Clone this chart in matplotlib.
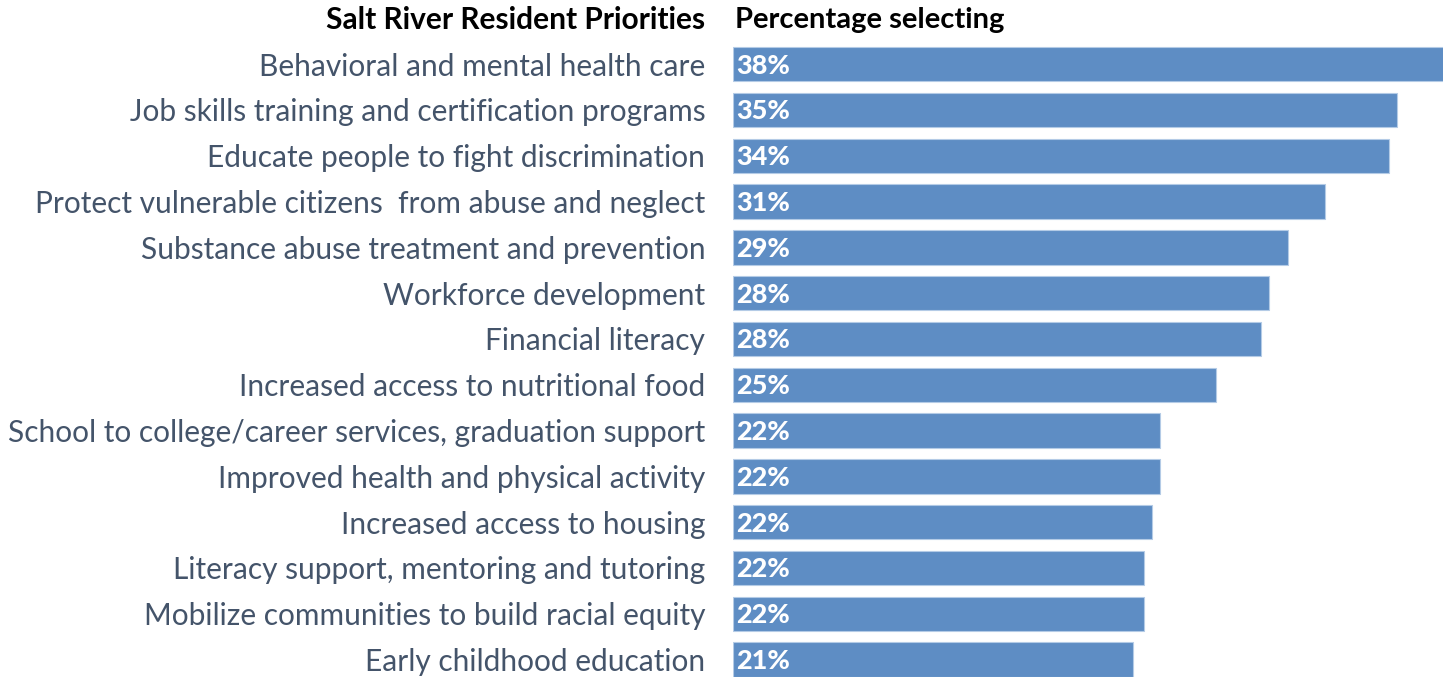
import matplotlib
matplotlib.use('Agg')
import matplotlib.pyplot as plt

# Данные
categories = [
    'Behavioral and mental health care',
    'Job skills training and certification programs',
    'Educate people to fight discrimination',
    'Protect vulnerable citizens  from abuse and neglect',
    'Substance abuse treatment and prevention',
    'Workforce development',
    'Financial literacy',
    'Increased access to nutritional food',
    'School to college/career services, graduation support',
    'Improved health and physical activity',
    'Increased access to housing',
    'Literacy support, mentoring and tutoring',
    'Mobilize communities to build racial equity',
    'Early childhood education',
]
values = [38.0, 34.86, 34.44, 31.08, 29.13, 28.14, 27.72, 25.35,
          22.41, 22.41, 22.0, 21.57, 21.57, 21.0]
value_labels = ['38%', '35%', '34%', '31%', '29%', '28%', '28%', '25%',
                '22%', '22%', '22%', '22%', '22%', '21%']

plt.rcParams['font.family'] = ['Lato', 'DejaVu Sans']

fig = plt.figure(figsize=(14.43, 6.77), dpi=100)
ax = fig.add_axes([733 / 1443, 0, 1 - 733 / 1443, 1])

y = list(range(len(categories)))
ax.barh(y, values, height=0.75, color='#5E8DC4', edgecolor='#B4CBE6', linewidth=0.8)

# Подписи значений внутри столбцов
for i, lab in enumerate(value_labels):
    ax.annotate(lab, (0, i), xytext=(2, -1), textcoords='offset points',
                ha='left', va='center', color='white', fontsize=19.5, fontweight='black')

ax.set_xlim(0, 710 / 19.05)
ax.set_ylim(13.38, -1.40)
ax.set_yticks(y)
ax.set_yticklabels(categories, fontsize=21.5, color='#44546A')
ax.tick_params(axis='y', length=0, pad=20)
ax.set_xticks([])
for s in ax.spines.values():
    s.set_visible(False)

# Заголовки колонок
ax.text(-28 / 19.05, -0.97, 'Salt River Resident Priorities', ha='right', va='center',
        fontsize=21.5, fontweight='bold', color='black')
ax.text(2 / 19.05, -0.97, 'Percentage selecting', ha='left', va='center',
        fontsize=21, fontweight='bold', color='black')

fig.savefig('out.png', dpi=100)
